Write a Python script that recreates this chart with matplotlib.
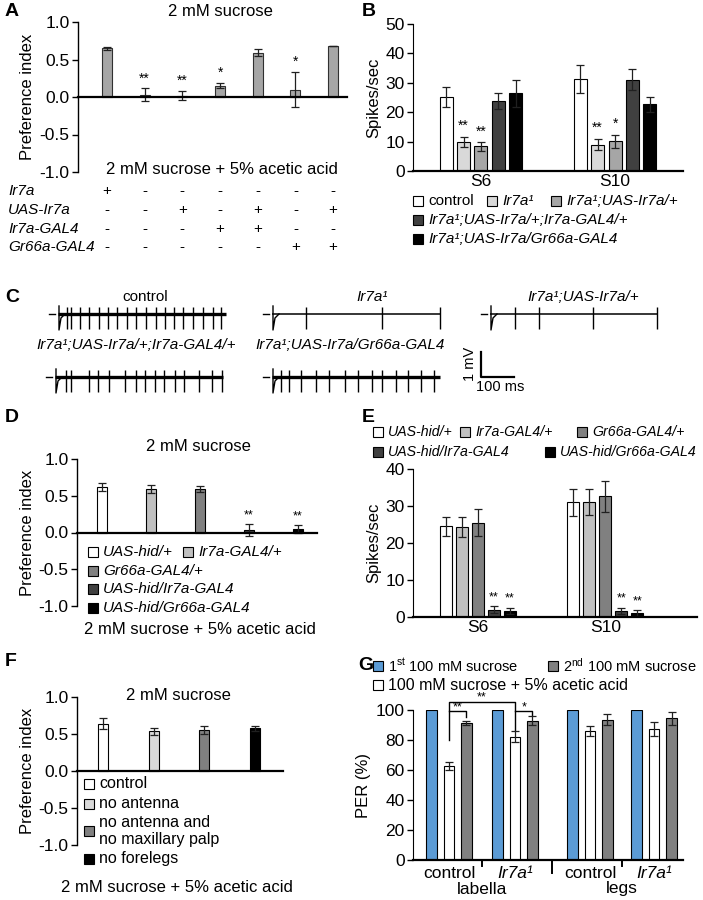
import matplotlib
matplotlib.use('Agg')
import matplotlib.pyplot as plt
from matplotlib.patches import Rectangle
import matplotlib.transforms as mtransforms

plt.rcParams['font.family'] = ['Liberation Sans', 'DejaVu Sans']
plt.rcParams['mathtext.fontset'] = 'custom'
plt.rcParams['mathtext.rm'] = 'Liberation Sans'
plt.rcParams['mathtext.it'] = 'Liberation Sans:italic'

# ---------------- DATA ----------------
A_values = [0.65, 0.03, 0.02, 0.15, 0.59, 0.10, 0.68]
A_errors = [0.02, 0.085, 0.065, 0.033, 0.044, 0.23, 0.006]
A_sig = ['', '**', '**', '*', '', '*', '']
A_rows = ['Ir7a', 'UAS-Ir7a', 'Ir7a-GAL4', 'Gr66a-GAL4']
A_table = [['+', '-', '-', '-', '-', '-', '-'],
           ['-', '-', '+', '-', '+', '-', '+'],
           ['-', '-', '-', '+', '+', '-', '-'],
           ['-', '-', '-', '-', '-', '+', '+']]

B_groups = ['S6', 'S10']
B_labels = ['control', 'Ir7a¹', 'Ir7a¹;UAS-Ir7a/+',
            'Ir7a¹;UAS-Ir7a/+;Ir7a-GAL4/+', 'Ir7a¹;UAS-Ir7a/Gr66a-GAL4']
B_values = [[25.2, 31.4], [9.9, 9.0], [8.4, 10.1], [23.8, 31.1], [26.4, 22.7]]
B_errors = [[3.3, 4.8], [1.8, 2.0], [1.5, 2.3], [2.6, 3.5], [4.5, 2.6]]
B_sig = [['', ''], ['**', '**'], ['**', '*'], ['', ''], ['', '']]
B_colors = ['white', '#d9d9d9', '#a6a6a6', '#404040', 'black']

C_labels = ['control', 'Ir7a¹', 'Ir7a¹;UAS-Ir7a/+',
            'Ir7a¹;UAS-Ir7a/+;Ir7a-GAL4/+', 'Ir7a¹;UAS-Ir7a/Gr66a-GAL4']
C_spikes_ms = [
    [15, 28, 55, 83, 112, 140, 168, 197, 224, 254, 284, 312, 340, 368, 398, 428, 458, 482],
    [90, 322, 498],
    [65, 135, 300, 495],
    [20, 35, 90, 118, 150, 200, 232, 262, 290, 318, 352, 380, 425, 465, 495],
    [15, 40, 75, 120, 160, 210, 248, 290, 320, 365, 400, 440, 480],
]

D_labels = ['UAS-hid/+', 'Ir7a-GAL4/+', 'Gr66a-GAL4/+', 'UAS-hid/Ir7a-GAL4', 'UAS-hid/Gr66a-GAL4']
D_values = [0.62, 0.59, 0.59, 0.03, 0.05]
D_errors = [0.05, 0.05, 0.045, 0.08, 0.05]
D_sig = ['', '', '', '**', '**']
D_colors = ['white', '#c0c0c0', '#808080', '#404040', 'black']

E_groups = ['S6', 'S10']
E_labels = D_labels
E_values = [[24.5, 31.0], [24.2, 31.1], [25.5, 32.6], [2.0, 1.6], [1.6, 1.0]]
E_errors = [[2.6, 3.7], [2.7, 3.6], [3.6, 4.1], [0.9, 0.9], [0.9, 0.8]]
E_sig = [['', ''], ['', ''], ['', ''], ['**', '**'], ['**', '**']]

F_labels = ['control', 'no antenna', 'no antenna and\nno maxillary palp', 'no forelegs']
F_values = [0.64, 0.535, 0.55, 0.58]
F_errors = [0.07, 0.045, 0.055, 0.034]
F_colors = ['white', '#d9d9d9', '#808080', 'black']

G_groups = ['control', 'Ir7a¹', 'control', 'Ir7a¹']
G_organs = ['labella', 'legs']
G_series = [r'1$^{\mathrm{st}}$ 100 mM sucrose', r'2$^{\mathrm{nd}}$ 100 mM sucrose',
            '100 mM sucrose + 5% acetic acid']
G_first = [100, 100, 100, 100]
G_acid = [62.7, 82.3, 86.0, 87.2]
G_acid_err = [2.7, 3.7, 3.3, 4.5]
G_second = [91.2, 92.9, 93.4, 94.4]
G_second_err = [1.5, 3.2, 3.7, 4.3]
G_colors = ['#5b9bd5', 'white', '#808080']

# ---------------- LAYOUT HELPERS ----------------
W, H = 703, 900
fig = plt.figure(figsize=(W / 100, H / 100), dpi=100)

TICK = 12.5
LAB = 12
LEG = 11


def add_ax(x0, y0, x1, y1):
    return fig.add_axes([x0 / W, 1 - y1 / H, (x1 - x0) / W, (y1 - y0) / H])


def ftext(x, y, s, **kw):
    kw.setdefault('va', 'center')
    return fig.text(x / W, 1 - y / H, s, **kw)


def legend_item(x, y, color, label, size=LEG, style='normal', sq=10):
    fig.patches.append(Rectangle((x / W, 1 - (y + sq / 2) / H), sq / W, sq / H,
                                 transform=fig.transFigure, facecolor=color,
                                 edgecolor='black', lw=0.8))
    ftext(x + sq + 5, y, label, fontsize=size, style=style, ha='left')


def style_pi_axes(ax):
    ax.set_ylim(-1, 1)
    ax.set_yticks([1.0, 0.5, 0.0, -0.5, -1.0])
    ax.set_yticklabels(['1.0', '0.5', '0.0', '-0.5', '-1.0'])
    for s in ['top', 'right']:
        ax.spines[s].set_visible(False)
    ax.spines['bottom'].set_position(('data', 0))
    ax.spines['bottom'].set_linewidth(1.6)
    ax.spines['left'].set_linewidth(1.0)
    ax.set_xticks([])
    ax.tick_params(axis='y', labelsize=TICK, direction='out', length=4, width=1, pad=2)
    ax.set_ylabel('Preference index', fontsize=LAB, labelpad=3)
    ax.patch.set_alpha(0)


def style_count_axes(ax):
    for s in ['top', 'right']:
        ax.spines[s].set_visible(False)
    ax.spines['bottom'].set_linewidth(1.6)
    ax.tick_params(axis='y', labelsize=TICK, direction='out', length=4, width=1, pad=2)
    ax.tick_params(axis='x', length=0, labelsize=TICK, pad=2)
    ax.patch.set_alpha(0)


ERR = dict(ecolor='#202020', elinewidth=0.9, capsize=3, capthick=0.9)

# ---------------- PANEL A ----------------
axA = add_ax(78, 22, 347, 172)
xA = list(range(len(A_values)))
axA.bar(xA, A_values, width=0.27, color='#a6a6a6', edgecolor='#303030', lw=0.8,
        yerr=A_errors, error_kw=ERR, zorder=2)
axA.set_xlim(-0.77, 6.37)
style_pi_axes(axA)
for i, (v, e, s) in enumerate(zip(A_values, A_errors, A_sig)):
    if s:
        axA.text(i, v + e + 0.04, s, ha='center', va='bottom', fontsize=10)
ftext(220, 12, '2 mM sucrose', fontsize=LAB, ha='center')
ftext(222, 170, '2 mM sucrose + 5% acetic acid', fontsize=LAB, ha='center')
trA = mtransforms.blended_transform_factory(axA.transData, fig.transFigure)
for r, (name, row) in enumerate(zip(A_rows, A_table)):
    y = [191, 210, 229, 247][r]
    ftext(8, y, name, fontsize=11, style='italic', ha='left')
    for i, sym in enumerate(row):
        axA.text(i, 1 - y / H, sym, transform=trA, ha='center', va='center',
                 fontsize=11)

# ---------------- PANEL B ----------------
axB = add_ax(413, 24, 683, 171)
offB = [-0.26, -0.13, 0.0, 0.13, 0.26]
for k in range(5):
    xs = [g + offB[k] for g in range(len(B_groups))]
    axB.bar(xs, B_values[k], width=0.097, color=B_colors[k], edgecolor='black',
            lw=0.8, yerr=B_errors[k], error_kw=ERR, zorder=2)
    for j, s in enumerate(B_sig[k]):
        if s:
            axB.text(xs[j], B_values[k][j] + B_errors[k][j] + 1.2, s, ha='center',
                     va='bottom', fontsize=10)
axB.set_xlim(-0.507, 1.507)
axB.set_ylim(0, 50)
axB.set_yticks([0, 10, 20, 30, 40, 50])
axB.set_xticks(range(len(B_groups)))
axB.set_xticklabels(B_groups)
style_count_axes(axB)
axB.set_ylabel('Spikes/sec', fontsize=LAB, labelpad=3)

legend_item(413, 201, B_colors[0], B_labels[0])
legend_item(487, 201, B_colors[1], B_labels[1], style='italic')
legend_item(551, 201, B_colors[2], B_labels[2], style='italic')
legend_item(413, 220, B_colors[3], B_labels[3], style='italic')
legend_item(413, 239, B_colors[4], B_labels[4], style='italic')

# ---------------- PANEL C ----------------
axC = fig.add_axes([0, 1 - 400 / H, 1, 110 / H])
axC.set_xlim(0, W)
axC.set_ylim(400, 290)
axC.axis('off')
PXMS = 165 / 500.0
trace_pos = [(58, 314), (272, 314), (490, 314), (55, 377), (272, 377)]
label_pos = [(145, 297), (372, 297), (583, 297), (136, 345), (350, 345)]
noisy = [True, False, False, True, True]
for k in range(5):
    x0, yb = trace_pos[k]
    x1 = x0 + 510 * PXMS
    axC.plot([x0 - 9, x0 - 3], [yb, yb], color='black', lw=1.0)
    axC.plot([x0, x1], [yb, yb], color='black', lw=2.4 if noisy[k] else 1.1,
             solid_capstyle='butt')
    axC.plot([x0 + 1, x0 + 1, x0 + 3, x0 + 7], [yb - 8, yb + 16, yb + 4, yb],
             color='black', lw=1.0)
    for t in C_spikes_ms[k]:
        axC.vlines(x0 + 4 + t * PXMS, yb - 7, yb + 15, color='black', lw=1.0)
    lx, ly = label_pos[k]
    axC.text(lx, ly, C_labels[k], ha='center', va='center', fontsize=LEG,
             style='normal' if k == 0 else 'italic')
# scale bar
axC.plot([481, 481, 514], [352, 377, 377], color='black', lw=1.6)
axC.text(470, 364, '1 mV', rotation=90, ha='center', va='center', fontsize=10.5)
axC.text(500, 387, '100 ms', ha='center', va='center', fontsize=10.5)

# ---------------- PANEL D ----------------
axD = add_ax(77, 459, 317, 606)
xD = list(range(len(D_values)))
axD.bar(xD, D_values, width=0.21, color=D_colors, edgecolor='black', lw=0.8,
        yerr=D_errors, error_kw=ERR, zorder=2)
axD.set_xlim(-0.51, 4.39)
style_pi_axes(axD)
for i, (v, e, s) in enumerate(zip(D_values, D_errors, D_sig)):
    if s:
        axD.text(i, v + e + 0.04, s, ha='center', va='bottom', fontsize=9)
ftext(198, 447, '2 mM sucrose', fontsize=LAB, ha='center')
ftext(200, 630, '2 mM sucrose + 5% acetic acid', fontsize=LAB, ha='center')
legend_item(88, 552, D_colors[0], D_labels[0], style='italic')
legend_item(183, 552, D_colors[1], D_labels[1], style='italic')
legend_item(88, 571, D_colors[2], D_labels[2], style='italic')
legend_item(88, 589, D_colors[3], D_labels[3], style='italic')
legend_item(88, 608, D_colors[4], D_labels[4], style='italic')

# ---------------- PANEL E ----------------
axE = add_ax(413, 469, 697, 617)
offE = [-0.252, -0.126, 0.0, 0.126, 0.252]
for k in range(5):
    xs = [g + offE[k] for g in range(len(E_groups))]
    axE.bar(xs, E_values[k], width=0.094, color=D_colors[k], edgecolor='black',
            lw=0.8, yerr=E_errors[k], error_kw=ERR, zorder=2)
    for j, s in enumerate(E_sig[k]):
        if s:
            axE.text(xs[j], E_values[k][j] + E_errors[k][j] + 0.8, s, ha='center',
                     va='bottom', fontsize=9)
axE.set_xlim(-0.51, 1.72)
axE.set_ylim(0, 40)
axE.set_yticks([0, 10, 20, 30, 40])
axE.set_xticks(range(len(E_groups)))
axE.set_xticklabels(E_groups)
style_count_axes(axE)
axE.set_ylabel('Spikes/sec', fontsize=LAB, labelpad=3)
legend_item(373, 432, D_colors[0], E_labels[0], size=10.2, style='italic')
legend_item(460, 432, D_colors[1], E_labels[1], size=10.2, style='italic')
legend_item(577, 432, D_colors[2], E_labels[2], size=10.2, style='italic')
legend_item(373, 452, D_colors[3], E_labels[3], size=10.2, style='italic')
legend_item(545, 452, D_colors[4], E_labels[4], size=10.2, style='italic')

# ---------------- PANEL F ----------------
axF = add_ax(77, 697, 283, 845)
xF = list(range(len(F_values)))
axF.bar(xF, F_values, width=0.2, color=F_colors, edgecolor='black', lw=0.8,
        yerr=F_errors, error_kw=ERR, zorder=2)
axF.set_xlim(-0.51, 3.55)
style_pi_axes(axF)
ftext(178, 696, '2 mM sucrose', fontsize=LAB, ha='center')
ftext(177, 887, '2 mM sucrose + 5% acetic acid', fontsize=LAB, ha='center')
legend_item(84, 784, F_colors[0], F_labels[0], size=11.5)
legend_item(84, 804, F_colors[1], F_labels[1], size=11.5)
legend_item(84, 831, F_colors[2], F_labels[2], size=11.5)
legend_item(84, 859, F_colors[3], F_labels[3], size=11.5)

# ---------------- PANEL G ----------------
axG = add_ax(413, 710, 683, 860)
G_pos = [0.0, 1.0, 2.136, 3.106]
offG = [-0.265, 0.0, 0.265]
wG = 0.16
axG.bar([p + offG[0] for p in G_pos], G_first, width=wG, color=G_colors[0],
        edgecolor='black', lw=0.8, zorder=2)
axG.bar([p + offG[1] for p in G_pos], G_acid, width=wG, color=G_colors[1],
        edgecolor='black', lw=0.8, yerr=G_acid_err, error_kw=ERR, zorder=2)
axG.bar([p + offG[2] for p in G_pos], G_second, width=wG, color=G_colors[2],
        edgecolor='black', lw=0.8, yerr=G_second_err, error_kw=ERR, zorder=2)
axG.set_xlim(-0.545, 3.545)
axG.set_ylim(0, 100)
axG.set_yticks([0, 20, 40, 60, 80, 100])
axG.set_xticks([])
style_count_axes(axG)
axG.set_ylabel('PER (%)', fontsize=LAB, labelpad=3)
trG = mtransforms.blended_transform_factory(axG.transData, fig.transFigure)
for p, g in zip(G_pos, G_groups):
    axG.text(p, 1 - 874 / H, g, transform=trG, ha='center', va='center',
             fontsize=TICK, style='italic' if g != 'control' else 'normal')
for p, o in zip([(G_pos[0] + G_pos[1]) / 2, (G_pos[2] + G_pos[3]) / 2], G_organs):
    axG.text(p, 1 - 889 / H, o, transform=trG, ha='center', va='center', fontsize=TICK)
for xs, ybot in [((G_pos[0] + G_pos[1]) / 2, 866), ((G_pos[1] + G_pos[2]) / 2, 873),
                 ((G_pos[2] + G_pos[3]) / 2, 866)]:
    axG.plot([xs, xs], [1 - 860 / H, 1 - ybot / H], transform=trG, color='black',
             lw=1.4, clip_on=False)
# significance brackets
c_w, c_g = G_pos[0] + offG[1], G_pos[0] + offG[2]
i_w, i_g = G_pos[1] + offG[1], G_pos[1] + offG[2]
axG.plot([c_w, c_w, i_w, i_w], [80, 105.5, 105.5, 87], color='black', lw=1.0, clip_on=False)
axG.plot([c_w, c_g, c_g], [99.2, 99.2, 95.5], color='black', lw=1.0, clip_on=False)
axG.plot([i_w, i_g, i_g], [99.2, 99.2, 96.5], color='black', lw=1.0, clip_on=False)
axG.text((c_w + c_g) / 2, 98.0, '**', ha='center', va='bottom', fontsize=9)
axG.text((c_w + i_w) / 2, 104.3, '**', ha='center', va='bottom', fontsize=9)
axG.text((i_w + i_g) / 2, 98.0, '*', ha='center', va='bottom', fontsize=9)
legend_item(373, 666, G_colors[0], G_series[0], size=10.5)
legend_item(548, 666, G_colors[2], G_series[1], size=10.5)
legend_item(373, 685, G_colors[1], G_series[2], size=11.5)

# ---------------- PANEL LETTERS ----------------
for letter, (x, y) in zip('ABCDEFG', [(5, 12), (362, 12), (5, 297), (5, 418),
                                      (362, 418), (5, 662), (358, 666)]):
    ftext(x, y, letter, fontsize=14, fontweight='bold', ha='left')

fig.savefig('out.png', dpi=100)
